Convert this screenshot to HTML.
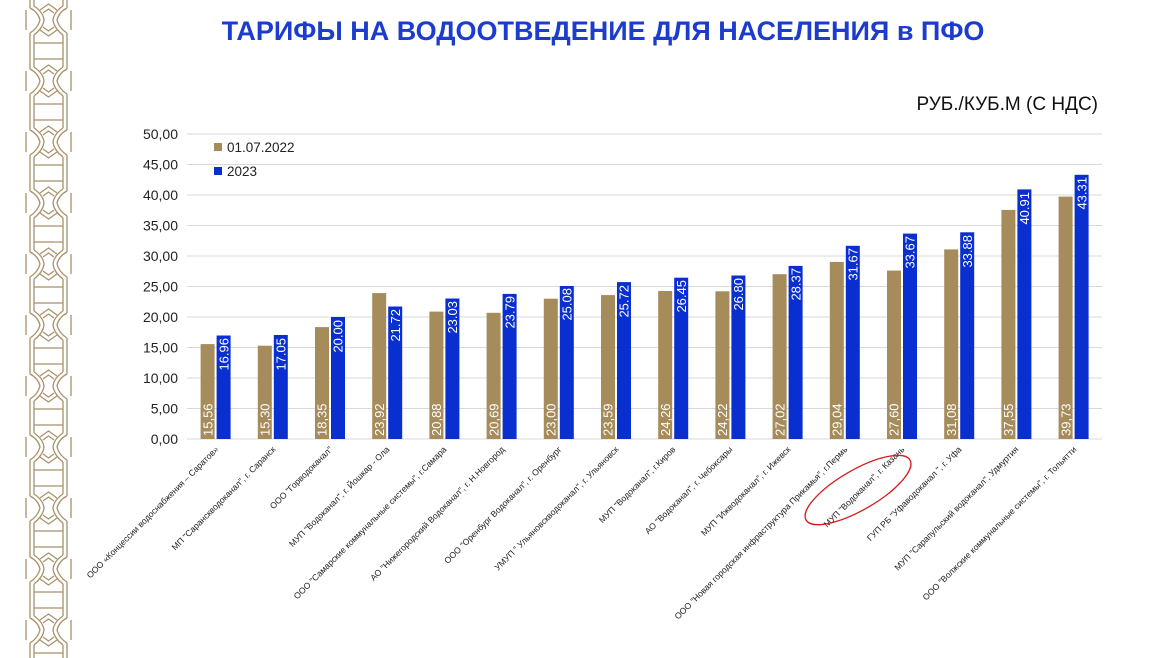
<!DOCTYPE html>
<html><head><meta charset="utf-8"><style>
body{margin:0;background:#fff;}
svg{display:block;font-family:"Liberation Sans",Arial,sans-serif;}
</style></head><body>
<svg width="1170" height="658" viewBox="0 0 1170 658" xmlns="http://www.w3.org/2000/svg">
<defs>
<pattern id="orn" x="0" y="-10" width="100" height="61" patternUnits="userSpaceOnUse">
<g fill="none" stroke="#a8916a" stroke-width="1.3">
<path d="M30 0 V18 M34 0 V16 M63 0 V16 M67 0 V18"/>
<path d="M30 43 V61 M34 45 V61 M63 45 V61 M67 43 V61"/>
<path d="M34 8 H63 M34 53 H63"/>
<path d="M30 18 Q38 22 40 30 Q38 38 30 43 M34 16 Q43 22 44 30 Q43 38 34 45"/>
<path d="M67 18 Q59 22 57 30 Q59 38 67 43 M63 16 Q54 22 53 30 Q54 38 63 45"/>
<path d="M40 20 L48.5 14 L57 20 M40 40 L48.5 46 L57 40"/>
<path d="M43 23 L48.5 19 L54 23 M43 37 L48.5 41 L54 37"/>
<path d="M26 20 V40 M71 20 V40"/>
</g>
</pattern>
</defs>
<rect x="24" y="0" width="50" height="658" fill="url(#orn)"/>

<text x="603" y="40" text-anchor="middle" font-size="27" font-weight="bold" fill="#1c3ccf">ТАРИФЫ НА ВОДООТВЕДЕНИЕ ДЛЯ НАСЕЛЕНИЯ в ПФО</text>
<text x="1098" y="110" text-anchor="end" font-size="19" fill="#111">РУБ./КУБ.М (С НДС)</text>

<g stroke="#d9d9d9" stroke-width="1">
<line x1="187" x2="1102" y1="134" y2="134"/><line x1="187" x2="1102" y1="164.5" y2="164.5"/>
<line x1="187" x2="1102" y1="195" y2="195"/><line x1="187" x2="1102" y1="225.5" y2="225.5"/>
<line x1="187" x2="1102" y1="256" y2="256"/><line x1="187" x2="1102" y1="286.5" y2="286.5"/>
<line x1="187" x2="1102" y1="317" y2="317"/><line x1="187" x2="1102" y1="347.5" y2="347.5"/>
<line x1="187" x2="1102" y1="378" y2="378"/><line x1="187" x2="1102" y1="408.5" y2="408.5"/>
<line x1="187" x2="1102" y1="439" y2="439"/>
</g>
<g font-size="14" fill="#222" text-anchor="end">
<text x="178" y="139">50,00</text><text x="178" y="169.5">45,00</text><text x="178" y="200">40,00</text>
<text x="178" y="230.5">35,00</text><text x="178" y="261">30,00</text><text x="178" y="291.5">25,00</text>
<text x="178" y="322">20,00</text><text x="178" y="352.5">15,00</text><text x="178" y="383">10,00</text>
<text x="178" y="413.5">5,00</text><text x="178" y="444">0,00</text>
</g>

<rect x="214" y="143" width="8" height="8" fill="#a68b5b"/>
<text x="227" y="152" font-size="13.5" fill="#222">01.07.2022</text>
<rect x="214" y="167" width="8" height="8" fill="#0a2fd0"/>
<text x="227" y="176" font-size="13.5" fill="#222">2023</text>

<g fill="#a68b5b">
<rect x="200.6" y="344.1" width="14" height="94.9"/>
<rect x="257.8" y="345.7" width="14" height="93.3"/>
<rect x="315" y="327.1" width="14" height="111.9"/>
<rect x="372.2" y="293.1" width="14" height="145.9"/>
<rect x="429.4" y="311.6" width="14" height="127.4"/>
<rect x="486.6" y="312.8" width="14" height="126.2"/>
<rect x="543.8" y="298.7" width="14" height="140.3"/>
<rect x="601" y="295.1" width="14" height="143.9"/>
<rect x="658.2" y="291" width="14" height="148"/>
<rect x="715.4" y="291.3" width="14" height="147.7"/>
<rect x="772.6" y="274.2" width="14" height="164.8"/>
<rect x="829.8" y="261.9" width="14" height="177.1"/>
<rect x="887" y="270.6" width="14" height="168.4"/>
<rect x="944.2" y="249.4" width="14" height="189.6"/>
<rect x="1001.4" y="209.9" width="14" height="229.1"/>
<rect x="1058.6" y="196.6" width="14" height="242.4"/>
</g>
<g fill="#0a2fd0">
<rect x="216.6" y="335.5" width="14" height="103.5"/>
<rect x="273.8" y="335" width="14" height="104"/>
<rect x="331" y="317" width="14" height="122"/>
<rect x="388.2" y="306.5" width="14" height="132.5"/>
<rect x="445.4" y="298.5" width="14" height="140.5"/>
<rect x="502.6" y="293.9" width="14" height="145.1"/>
<rect x="559.8" y="286" width="14" height="153"/>
<rect x="617" y="282.1" width="14" height="156.9"/>
<rect x="674.2" y="277.7" width="14" height="161.3"/>
<rect x="731.4" y="275.5" width="14" height="163.5"/>
<rect x="788.6" y="265.9" width="14" height="173.1"/>
<rect x="845.8" y="245.8" width="14" height="193.2"/>
<rect x="903" y="233.6" width="14" height="205.4"/>
<rect x="960.2" y="232.3" width="14" height="206.7"/>
<rect x="1017.4" y="189.4" width="14" height="249.6"/>
<rect x="1074.6" y="174.8" width="14" height="264.2"/>
</g>

<g font-size="13" fill="#fff">
<text transform="translate(212.3,436) rotate(-90)">15,56</text>
<text transform="translate(269.5,436) rotate(-90)">15,30</text>
<text transform="translate(326.7,436) rotate(-90)">18,35</text>
<text transform="translate(383.9,436) rotate(-90)">23,92</text>
<text transform="translate(441.1,436) rotate(-90)">20,88</text>
<text transform="translate(498.3,436) rotate(-90)">20,69</text>
<text transform="translate(555.5,436) rotate(-90)">23,00</text>
<text transform="translate(612.7,436) rotate(-90)">23,59</text>
<text transform="translate(669.9,436) rotate(-90)">24,26</text>
<text transform="translate(727.1,436) rotate(-90)">24,22</text>
<text transform="translate(784.3,436) rotate(-90)">27,02</text>
<text transform="translate(841.5,436) rotate(-90)">29,04</text>
<text transform="translate(898.7,436) rotate(-90)">27,60</text>
<text transform="translate(955.9,436) rotate(-90)">31,08</text>
<text transform="translate(1013.1,436) rotate(-90)">37,55</text>
<text transform="translate(1070.3,436) rotate(-90)">39,73</text>
</g>
<g font-size="13" fill="#fff" text-anchor="end">
<text transform="translate(228.3,338) rotate(-90)">16.96</text>
<text transform="translate(285.5,338) rotate(-90)">17.05</text>
<text transform="translate(342.7,320) rotate(-90)">20.00</text>
<text transform="translate(399.9,309) rotate(-90)">21.72</text>
<text transform="translate(457.1,301) rotate(-90)">23.03</text>
<text transform="translate(514.3,296) rotate(-90)">23.79</text>
<text transform="translate(571.5,288) rotate(-90)">25.08</text>
<text transform="translate(628.7,285) rotate(-90)">25.72</text>
<text transform="translate(685.9,280) rotate(-90)">26.45</text>
<text transform="translate(743.1,278) rotate(-90)">26.80</text>
<text transform="translate(800.3,268) rotate(-90)">28.37</text>
<text transform="translate(857.5,248) rotate(-90)">31.67</text>
<text transform="translate(914.7,236) rotate(-90)">33.67</text>
<text transform="translate(971.9,235) rotate(-90)">33.88</text>
<text transform="translate(1029.1,192) rotate(-90)">40.91</text>
<text transform="translate(1086.3,177) rotate(-90)">43.31</text>
</g>

<g font-size="8.6" fill="#222" text-anchor="end">
<text transform="translate(219,450) rotate(-45)">ООО «Концессии водоснабжения – Саратов»</text>
<text transform="translate(276,450) rotate(-45)">МП "Саранскводоканал", г. Саранск</text>
<text transform="translate(333,450) rotate(-45)">ООО "Горводоканал"</text>
<text transform="translate(390,450) rotate(-45)">МУП "Водоканал", г. Йошкар - Ола</text>
<text transform="translate(447,450) rotate(-45)">ООО "Самарские коммунальные системы", г.Самара</text>
<text transform="translate(505,450) rotate(-45)">АО "Нижегородский Водоканал", г. Н.Новгород</text>
<text transform="translate(562,450) rotate(-45)">ООО "Оренбург Водоканал", г. Оренбург</text>
<text transform="translate(619,450) rotate(-45)">УМУП " Ульяновскводоканал", г. Ульяновск</text>
<text transform="translate(676,450) rotate(-45)">МУП "Водоканал", г.Киров</text>
<text transform="translate(733,450) rotate(-45)">АО "Водоканал", г. Чебоксары</text>
<text transform="translate(791,450) rotate(-45)">МУП "Ижводоканал", г. Ижевск</text>
<text transform="translate(848,450) rotate(-45)">ООО "Новая городская инфраструктура Прикамья", г.Пермь</text>
<text transform="translate(905,450) rotate(-45)">МУП "Водоканал", г. Казань</text>
<text transform="translate(962,450) rotate(-45)">ГУП РБ "Уфаводоканал ", г. Уфа</text>
<text transform="translate(1019,450) rotate(-45)">МУП "Сарапульский водоканал", Удмуртия</text>
<text transform="translate(1077,450) rotate(-45)">ООО "Волжские коммунальные системы", г. Тольятти</text>
</g>
<ellipse cx="858" cy="490" rx="60" ry="20" transform="rotate(-30 858 490)" fill="none" stroke="#d91c1c" stroke-width="1.3"/>
</svg>
</body></html>
